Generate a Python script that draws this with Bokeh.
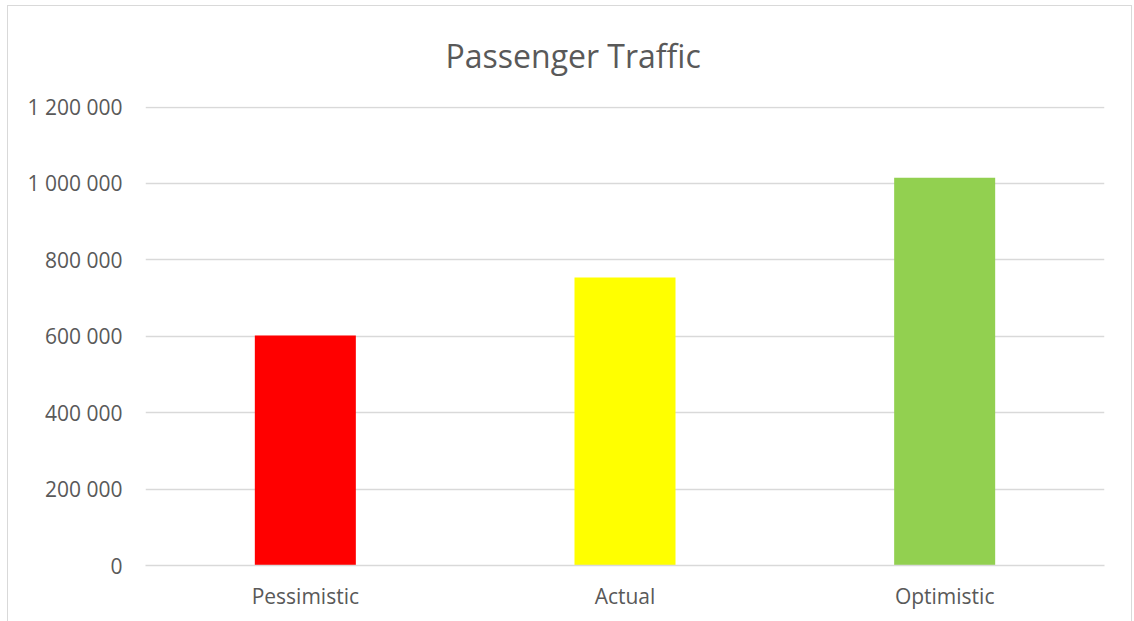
from bokeh.plotting import figure
from bokeh.models import Range1d, FixedTicker
from bokeh.embed import file_html
from bokeh.resources import INLINE

categories = ["Pessimistic", "Actual", "Optimistic"]
values = [602000, 754000, 1015000]
colors = ["#ff0000", "#ffff00", "#92d050"]
y_ticks = [0, 200000, 400000, 600000, 800000, 1000000, 1200000]
y_tick_labels = ["0", "200 000", "400 000", "600 000", "800 000", "1 000 000", "1 200 000"]

FONT = "Open Sans"
TXT = "#595959"

p = figure(x_range=categories, y_range=Range1d(0, 1201500),
           width=1125, height=616, output_backend="svg", toolbar_location=None,
           title="Passenger Traffic",
           min_border_left=137, min_border_right=29, min_border_top=99, min_border_bottom=57)
p.styles = {"border-left": "1px solid #d9d9d9", "border-right": "1px solid #d9d9d9",
            "border-top": "1px solid #d9d9d9", "margin-left": "7px", "margin-top": "5px"}

p.vbar(x=categories, top=values, width=0.316, color=colors, line_color=None)

p.title.align = "left"
p.title.offset = 300
p.title.standoff = 55
p.title.vertical_align = "top"
p.title.text_font = FONT
p.title.text_font_size = "32px"
p.title.text_font_style = "normal"
p.title.text_color = TXT

p.outline_line_color = None
p.xgrid.grid_line_color = None
p.ygrid.grid_line_color = "#d9d9d9"
p.ygrid.grid_line_width = 1.5
p.ygrid.ticker = FixedTicker(ticks=y_ticks)

p.yaxis.ticker = FixedTicker(ticks=y_ticks)
p.yaxis.major_label_overrides = {t: l for t, l in zip(y_ticks, y_tick_labels)}
p.yaxis.axis_line_color = None
p.yaxis.major_tick_line_color = None
p.yaxis.minor_tick_line_color = None
p.yaxis.major_label_standoff = 17
p.yaxis.major_label_text_font = FONT
p.yaxis.major_label_text_font_size = "21px"
p.yaxis.major_label_text_color = TXT

p.xaxis.axis_line_color = "#d9d9d9"
p.xaxis.axis_line_width = 1.5
p.xaxis.major_tick_line_color = None
p.xaxis.minor_tick_line_color = None
p.xaxis.major_label_standoff = 10
p.xaxis.major_label_text_font = FONT
p.xaxis.major_label_text_font_size = "21px"
p.xaxis.major_label_text_color = TXT

open("out.html", "w").write(file_html(p, INLINE))
